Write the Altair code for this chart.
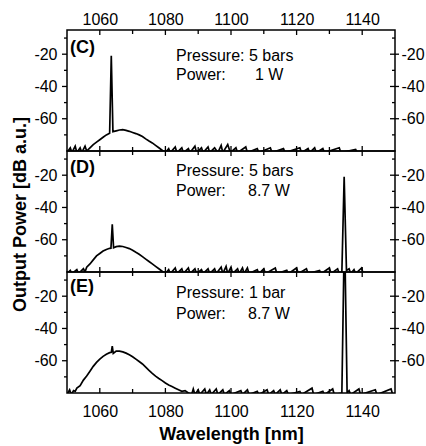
import altair as alt
import pandas as pd

FONT = "Liberation Sans"

x_domain = [1050, 1150]
y_domain = [-80, -5]
x_major = [1060, 1080, 1100, 1120, 1140]
x_minor = [1070, 1090, 1110, 1130]
y_major = [-60, -40, -20]
y_minor = [-70, -50, -30, -10]

panel_tags = ["(C)", "(D)", "(E)"]
pressure_labels = ["Pressure: 5 bars", "Pressure: 5 bars", "Pressure: 1 bar"]
power_values = ["1 W", "8.7 W", "8.7 W"]

# spectrum (C): pressure 5 bars, power 1 W
spec_C = [
    (1050, -81), (1051, -78), (1051.5, -81), (1052.5, -77), (1053, -81), (1054, -78),
    (1054.5, -81), (1055.5, -77), (1056, -80), (1057, -78), (1058, -76), (1059, -74.5),
    (1060, -73), (1061, -71.5), (1062, -70), (1063, -69), (1063.5, -21), (1064, -68),
    (1065, -67.5), (1066, -67), (1067, -66.8), (1068, -67.2), (1069, -67.8), (1070, -68.5),
    (1071, -69.2), (1072, -70), (1073, -71), (1074, -72.5), (1075, -73.8), (1076, -75),
    (1077, -76.5), (1078, -78), (1079, -79.5), (1080, -81), (1081, -78.5), (1081.5, -81),
    (1083, -77.5), (1083.5, -81), (1085, -78), (1085.5, -81), (1087, -78.5), (1087.5, -81),
    (1089, -77), (1089.5, -81), (1091, -78), (1091.5, -81), (1093, -77.5), (1093.5, -81),
    (1095, -78), (1096, -81), (1097, -76.5), (1097.5, -81), (1099, -76), (1099.8, -81),
    (1101.5, -78), (1102, -81), (1104.5, -77.5), (1105, -81), (1108, -78.5), (1108.5, -81),
    (1112, -78), (1112.5, -81), (1116, -78.5), (1116.5, -81), (1121, -78), (1121.5, -81),
    (1123.5, -78.5), (1124, -81), (1125.5, -78), (1126, -81), (1128, -78.5), (1128.5, -81),
    (1133, -78), (1133.5, -81), (1138, -79), (1138.5, -81), (1150, -81),
]

# spectrum (D): pressure 5 bars, power 8.7 W
spec_D = [
    (1050, -81), (1051, -79), (1051.5, -81), (1053, -78.5), (1053.5, -81), (1055, -78),
    (1055.5, -80), (1056, -77), (1057, -75), (1058, -72.5), (1059, -70), (1060, -68.5),
    (1061, -67), (1062, -66), (1063, -65.3), (1063.4, -65.2), (1063.8, -50.5), (1064.2, -65),
    (1065, -64.3), (1066, -64), (1067, -64.2), (1068, -64.8), (1069, -65.5), (1070, -66.5),
    (1071, -67.8), (1072, -69), (1073, -70.5), (1074, -72), (1075, -73.5), (1076, -75),
    (1077, -76.5), (1078, -78), (1079, -79.5), (1080, -81), (1081, -78.5), (1081.5, -81),
    (1083, -77.5), (1083.5, -81), (1085, -78), (1085.5, -81), (1087, -77.5), (1087.5, -81),
    (1089, -78), (1089.5, -81), (1091, -78.5), (1091.5, -81), (1093, -78), (1093.5, -81),
    (1095, -78), (1095.5, -81), (1097, -77), (1097.5, -81), (1098.5, -76.5), (1099, -81),
    (1100, -77), (1100.5, -81), (1102, -78), (1102.5, -81), (1103.5, -77.5), (1104, -81),
    (1105, -77.5), (1105.5, -81), (1108, -78.5), (1108.5, -81), (1110, -78), (1110.5, -81),
    (1113.5, -77.5), (1114, -81), (1117, -79), (1117.5, -81), (1120, -77.5), (1120.5, -81),
    (1123, -78), (1123.5, -81), (1127, -79), (1127.5, -81), (1130, -77.5), (1130.5, -81),
    (1132.5, -78), (1133, -81), (1133.8, -80), (1134.5, -21), (1135.2, -79), (1136, -78),
    (1136.5, -81), (1137.5, -78.5), (1138, -81), (1139.8, -77.5), (1140.3, -81), (1150, -81),
]

# spectrum (E): pressure 1 bar, power 8.7 W
spec_E = [
    (1050, -81), (1050.8, -78), (1051.3, -81), (1052, -78.5), (1052.5, -79), (1053, -77),
    (1054, -75.5), (1055, -72), (1056, -69.5), (1057, -66.5), (1058, -63.5), (1059, -61),
    (1060, -59), (1061, -57.3), (1062, -56), (1063, -55), (1063.5, -54.8), (1063.8, -51),
    (1064.1, -55.5), (1065, -54), (1066, -54), (1067, -54.5), (1068, -55.3), (1069, -56.3),
    (1070, -57.5), (1071, -59), (1072, -60.5), (1073, -62), (1074, -64), (1075, -66),
    (1076, -67.8), (1077, -69.5), (1078, -71), (1079, -72.3), (1080, -73.8), (1081, -75),
    (1082, -76), (1083, -77), (1084, -78), (1085, -79), (1086, -78.5), (1087, -80),
    (1088, -81), (1088.5, -77.5), (1089, -81), (1090, -78), (1090.5, -81), (1092, -77.5),
    (1092.5, -81), (1093.5, -78), (1094, -81), (1095.5, -77.5), (1096, -81), (1097.5, -78),
    (1098, -81), (1099.5, -78.5), (1100, -81), (1103, -78.5), (1103.5, -81), (1105, -78),
    (1105.5, -81), (1108, -79), (1108.5, -81), (1111, -78), (1111.5, -81), (1113, -78.5),
    (1113.5, -81), (1115, -78), (1115.5, -81), (1117, -78.5), (1117.5, -81), (1121, -79),
    (1121.5, -81), (1124.7, -77), (1125.2, -81), (1128, -79), (1128.5, -81), (1131, -77.5),
    (1131.5, -81), (1133.8, -80), (1134.4, -2), (1134.8, -2), (1135.4, -80), (1136, -78.5),
    (1136.5, -81), (1139, -77.5), (1139.5, -81), (1144, -78), (1144.5, -81), (1148.8, -77.5),
    (1149.3, -81), (1150, -81),
]

W, H = 328, 121
LBL = "toString(datum.value)"


def ax(**kw):
    base = dict(domain=False, grid=False, ticks=False, tickSize=0,
                labelOverlap=False, labelFlush=False, labelExpr=LBL, title=None)
    base.update(kw)
    return alt.Axis(**base)


def panel(spec, idx, text_pos, show_top, show_bottom, show_ytitle):
    df = pd.DataFrame(spec, columns=["wl", "db"])
    xs = alt.Scale(domain=x_domain, nice=False, zero=False)
    ys = alt.Scale(domain=y_domain, nice=False, zero=False)

    if show_bottom:
        bottom_axis = ax(orient="bottom", values=x_major, labelPadding=10,
                         titlePadding=6, title="Wavelength [nm]")
    else:
        bottom_axis = None
    top_axis = ax(orient="top", values=x_major, labelPadding=3) if show_top else None
    left_kw = dict(orient="left", values=y_major, labelPadding=10, titlePadding=4)
    if show_ytitle:
        left_kw["title"] = "Output Power [dB a.u.]"
        left_kw["titleY"] = 63
    left_axis = ax(**left_kw)
    right_axis = ax(orient="right", values=y_major, labelPadding=6)

    line = alt.Chart(df).mark_line(color="black", strokeWidth=1.7, clip=True).encode(
        x=alt.X("wl:Q", scale=xs, axis=bottom_axis),
        y=alt.Y("db:Q", scale=ys, axis=left_axis),
    )
    ghost = alt.Chart(df).mark_line(strokeOpacity=0, clip=True).encode(
        x=alt.X("wl:Q", scale=xs, axis=top_axis),
        y=alt.Y("db:Q", scale=ys, axis=right_axis),
    )

    # tick marks drawn from the tick-value lists through the shared scales
    def xticks(vals, y0, y1):
        return alt.Chart(pd.DataFrame({"v": vals})).mark_rule(
            color="black", strokeWidth=1.3).encode(
            x=alt.X("v:Q", scale=xs, axis=None), y=alt.value(y0), y2=alt.value(y1))

    def yticks(vals, x0, x1):
        return alt.Chart(pd.DataFrame({"v": vals})).mark_rule(
            color="black", strokeWidth=1.3).encode(
            y=alt.Y("v:Q", scale=ys, axis=None), x=alt.value(x0), x2=alt.value(x1))

    ticks = [
        xticks(x_major, 0, 5), xticks(x_minor, 0, 4),
        xticks(x_major, H - 5, H), xticks(x_minor, H - 4, H),
        yticks(y_major, -5, 0), yticks(y_minor, -3, 0),
        yticks(y_major, W - 5, W + 4), yticks(y_minor, W - 3, W),
    ]

    one = pd.DataFrame({"k": [0]})
    tag_y, pres_y, pow_y, val_x = text_pos
    tag = alt.Chart(one).mark_text(text=panel_tags[idx], font=FONT, fontSize=18, fontWeight="bold",
                                   align="left", baseline="middle", color="black").encode(
        x=alt.value(3), y=alt.value(tag_y))
    pres = alt.Chart(one).mark_text(text=pressure_labels[idx], font=FONT, fontSize=16,
                                    align="left", baseline="middle", color="black").encode(
        x=alt.value(109), y=alt.value(pres_y))
    powl = alt.Chart(one).mark_text(text="Power:", font=FONT, fontSize=16,
                                    align="left", baseline="middle", color="black").encode(
        x=alt.value(109), y=alt.value(pow_y))
    powv = alt.Chart(one).mark_text(text=power_values[idx], font=FONT, fontSize=16,
                                    align="left", baseline="middle", color="black").encode(
        x=alt.value(val_x), y=alt.value(pow_y))
    return alt.layer(line, ghost, *ticks, tag, pres, powl, powv).resolve_scale(
        x="shared", y="shared").resolve_axis(x="independent", y="independent").properties(
        width=W, height=H)


pC = panel(spec_C, 0, (18, 26, 45, 188), True, False, False)
pD = panel(spec_D, 1, (17, 20, 40, 181), False, False, True)
pE = panel(spec_E, 2, (15, 21, 42, 181), False, True, False)

chart = alt.vconcat(pC, pD, pE, spacing=0, bounds="flush").properties(
    padding={"left": 11, "top": 10, "right": 0, "bottom": 0},
    background="white",
).configure_view(stroke="black", strokeWidth=1.5).configure_axis(
    labelFont=FONT, labelFontSize=16, labelColor="black",
    titleFont=FONT, titleFontSize=18, titleFontWeight="bold", titleColor="black",
)

chart.save("out.html", embed_options={"renderer": "svg", "actions": False})
